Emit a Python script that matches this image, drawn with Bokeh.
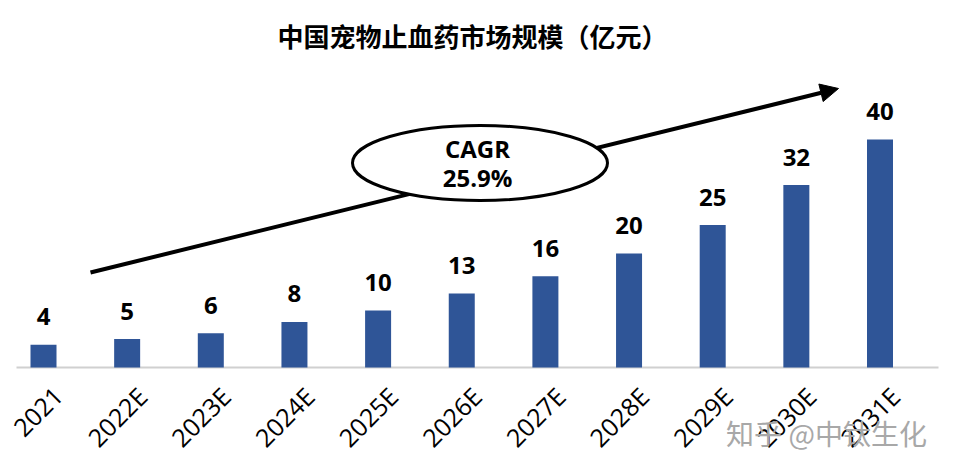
import math
from bokeh.plotting import figure
from bokeh.models import Range1d, Arrow, NormalHead
from bokeh.core.properties import value
from bokeh.embed import file_html
from bokeh.resources import INLINE

# ---- data ----
years = ["2021", "2022E", "2023E", "2024E", "2025E", "2026E",
         "2027E", "2028E", "2029E", "2030E", "2031E"]
market = [4, 5, 6, 8, 10, 13, 16, 20, 25, 32, 40]
value_labels = [str(v) for v in market]
cagr_lines = ["CAGR", "25.9%"]
title_text = "中国宠物止血药市场规模（亿元）"
watermark_text = "知乎 @中钛生化"

# ---- layout constants (pixels) ----
W, H = 955, 472
BASE = 367          # baseline pixel row
PXU = 5.7           # pixels per unit
SLOT = 83.65        # pixels per category
X0 = 43             # pixel center of first bar


def dx(px):
    return (px - X0) / SLOT


def dy(py):
    return (BASE - py) / PXU


idx = list(range(len(years)))

p = figure(width=W, height=H, output_backend="svg", toolbar_location=None,
           x_range=Range1d(dx(0), dx(W)),
           y_range=Range1d(dy(H), dy(0)),
           min_border=0)
p.outline_line_color = None
p.xgrid.visible = False
p.ygrid.visible = False
p.xaxis.visible = False
p.yaxis.visible = False
p.background_fill_color = "white"
p.border_fill_color = "white"

# baseline
p.segment(x0=[dx(16)], y0=[0], x1=[dx(938)], y1=[0],
          line_color="#d0d0d0", line_width=2)

# arrow (under the ellipse)
arrow = Arrow(end=NormalHead(size=18, fill_color="black", line_color="black"),
              x_start=dx(90), y_start=dy(272), x_end=dx(838), y_end=dy(88),
              line_width=4, line_color="black", level="underlay")
p.add_layout(arrow)

# bars
p.vbar(x=idx, top=market, width=26 / SLOT, fill_color="#2F5597",
       line_color=None)

# value labels
p.text(x=idx, y=[v + 28 / PXU for v in market], text=value_labels,
       text_align="center", text_baseline="alphabetic",
       text_font=value("Open Sans"), text_font_style="bold",
       text_font_size="24px", text_color="black")

# category labels (rotated 45 degrees)
p.text(x=[i + 15 / SLOT for i in idx], y=[-24 / PXU] * len(idx), text=years,
       angle=math.pi / 4, text_align="right", text_baseline="middle",
       text_font=value("Open Sans"), text_font_size="25px",
       text_color="black")

# title
p.text(x=[dx(472)], y=[dy(35)], text=[title_text], text_align="center",
       text_baseline="middle", text_font=value("Noto Sans CJK SC"),
       text_font_style="bold", text_font_size="26px", text_color="black")

# CAGR ellipse
p.ellipse(x=[dx(479.5)], y=[dy(162.5)], width=[255 / SLOT], height=[75 / PXU],
          fill_color="white", line_color="black", line_width=3)
p.text(x=[dx(477), dx(477)], y=[dy(148), dy(177)], text=cagr_lines,
       text_align="center", text_baseline="middle",
       text_font=value("Open Sans"), text_font_style="bold",
       text_font_size="24px", text_color="black")

# watermark
p.text(x=[dx(826)], y=[dy(432)], text=[watermark_text], text_align="center",
       text_baseline="middle", text_font=value("Noto Sans CJK SC"),
       text_font_size="28px", text_color="#a8a8a8")

open("out.html", "w").write(file_html(p, INLINE))
